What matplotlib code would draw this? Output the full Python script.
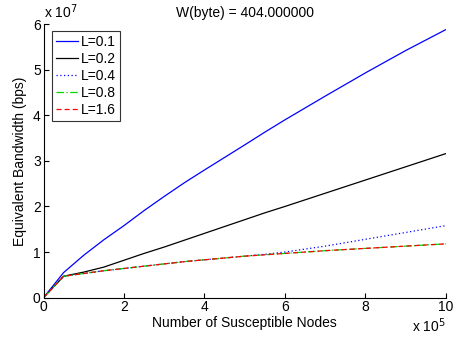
import matplotlib
matplotlib.use("Agg")
import matplotlib.pyplot as plt

plt.rcParams['font.family'] = ['Liberation Sans', 'DejaVu Sans']

# x in units of 1e5 nodes, y in units of 1e7 bps
x_vals = [0, 0.5, 1, 1.5, 2, 2.5, 3, 3.5, 4, 5, 5.5, 6, 7, 8, 9, 10]
L01 = [0, 0.55, 0.93, 1.27, 1.58, 1.91, 2.22, 2.52, 2.80, 3.35, 3.63, 3.90, 4.42, 4.93, 5.42, 5.88]
L02 = [0, 0.47, 0.56, 0.67, 0.82, 0.97, 1.11, 1.26, 1.41, 1.71, 1.86, 2.00, 2.29, 2.58, 2.87, 3.16]
L04 = [0, 0.47, 0.53, 0.59, 0.64, 0.69, 0.74, 0.79, 0.83, 0.91, 0.95, 1.00, 1.13, 1.28, 1.43, 1.58]
L08 = [0, 0.47, 0.53, 0.59, 0.64, 0.69, 0.74, 0.79, 0.83, 0.91, 0.94, 0.97, 1.03, 1.08, 1.13, 1.18]
L16 = [0, 0.47, 0.53, 0.59, 0.64, 0.69, 0.74, 0.79, 0.83, 0.91, 0.94, 0.97, 1.03, 1.08, 1.13, 1.18]
x_ticks = [0, 2, 4, 6, 8, 10]
y_ticks = [0, 1, 2, 3, 4, 5, 6]
title = "W(byte) = 404.000000"

fig = plt.figure(figsize=(4.56, 3.39), dpi=100)
ax = fig.add_axes([0.0954, 0.122, 0.8826, 0.807])

xs = [v * 1e5 for v in x_vals]
ax.plot(xs, [v * 1e7 for v in L01], color=(0, 0, 1), lw=0.9, ls='-', label='L=0.1')
ax.plot(xs, [v * 1e7 for v in L02], color='k', lw=0.9, ls='-', label='L=0.2')
ax.plot(xs, [v * 1e7 for v in L04], color=(0, 0, 1), lw=0.9, ls=(0, (1, 2)), label='L=0.4')
ax.plot(xs, [v * 1e7 for v in L08], color=(0, 0.85, 0), lw=0.9, ls=(0, (6, 2, 1, 2)), label='L=0.8')
ax.plot(xs, [v * 1e7 for v in L16], color=(1, 0, 0), lw=0.9, ls=(0, (4, 2.5)), label='L=1.6')

ax.set_xlim(0, 10e5)
ax.set_ylim(0, 6e7)
ax.set_xticks([t * 1e5 for t in x_ticks])
ax.set_xticklabels([str(t) for t in x_ticks])
ax.set_yticks([t * 1e7 for t in y_ticks])
ax.set_yticklabels([str(t) for t in y_ticks])
ax.tick_params(direction='in', length=3.5, labelsize=10, width=0.8, pad=2)
for s in ['top', 'right']:
    ax.spines[s].set_visible(False)
for s in ['left', 'bottom']:
    ax.spines[s].set_linewidth(0.8)

ax.set_title(title, fontsize=10, pad=5)
ax.set_xlabel('Number of Susceptible Nodes', fontsize=10, labelpad=1)
ax.set_ylabel('Equivalent Bandwidth (bps)', fontsize=10, labelpad=4)

ax.text(0.0, 1.01, r'x 10$^{7}$', transform=ax.transAxes, ha='left', va='bottom', fontsize=10)
ax.text(1.0, -0.07, r'x 10$^{5}$', transform=ax.transAxes, ha='right', va='top', fontsize=10)

leg = ax.legend(loc='upper left', bbox_to_anchor=(0.02, 0.975), fontsize=10, frameon=True,
                fancybox=False, edgecolor='k', handlelength=1.6, handletextpad=0.2,
                labelspacing=0.22, borderpad=0.3, borderaxespad=0.0)
leg.get_frame().set_linewidth(0.8)

fig.savefig('out.png', dpi=100)
